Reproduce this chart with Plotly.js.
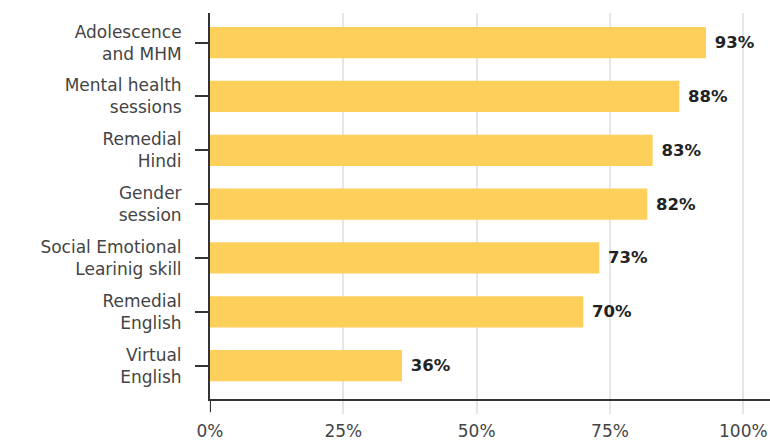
<!DOCTYPE html>
<html>
<head>
<meta charset="utf-8">
<script src="https://cdn.plot.ly/plotly-3.0.1.min.js"></script>
<style>html,body{margin:0;padding:0;background:#fff;}#chart{width:770px;height:444px;}</style>
</head>
<body>
<div id="chart"></div>
<script>
const categories = [
  "Adolescence<br>and MHM",
  "Mental health<br>sessions",
  "Remedial<br>Hindi",
  "Gender<br>session",
  "Social Emotional<br>Learinig skill",
  "Remedial<br>English",
  "Virtual<br>English"
];
const values = [93, 88, 83, 82, 73, 70, 36];
const labels = values.map(v => "\u00a0" + v + "%");
const xTickVals = [0, 25, 50, 75, 100];
const xTickText = ["0%", "25%", "50%", "75%", "100%"];

const fontFam = "DejaVu Sans, Open Sans, sans-serif";

const trace = {
  type: "bar",
  orientation: "h",
  y: categories,
  x: values,
  text: labels,
  textposition: "outside",
  cliponaxis: false,
  textfont: {family: fontFam, size: 16.5, color: "#222222", weight: 700},
  marker: {color: "#FDD05C"},
  width: 0.58,
  hoverinfo: "none"
};

const layout = {
  width: 770,
  height: 444,
  margin: {l: 210, r: 0, t: 13, b: 45},
  paper_bgcolor: "#ffffff",
  plot_bgcolor: "#ffffff",
  showlegend: false,
  font: {family: fontFam, size: 17, color: "#444444"},
  xaxis: {
    range: [0, 105],
    tickvals: xTickVals,
    ticktext: xTickText,
    showgrid: true,
    gridcolor: "#e6e6e6",
    gridwidth: 2,
    zeroline: false,
    showline: true,
    linecolor: "#333333",
    linewidth: 2,
    ticks: "outside",
    ticklen: 13,
    tickwidth: 2,
    tickcolor: "#e6e6e6",
    ticklabelstandoff: 3,
    tickfont: {family: fontFam, size: 17, color: "#444444"}
  },
  yaxis: {
    type: "category",
    categoryorder: "array",
    categoryarray: categories,
    range: [6.62, -0.55],
    showgrid: false,
    zeroline: false,
    showline: true,
    linecolor: "#333333",
    linewidth: 2,
    ticks: "outside",
    ticklen: 13,
    tickwidth: 2,
    tickcolor: "#333333",
    ticklabelstandoff: 10,
    tickfont: {family: fontFam, size: 17, color: "#444444"}
  },
  shapes: [{
    type: "line",
    xref: "x", yref: "paper",
    x0: 0, x1: 0, y0: 0, y1: -13/386,
    line: {color: "#333333", width: 2}
  }]
};

Plotly.newPlot("chart", [trace], layout, {staticPlot: true, displayModeBar: false});
</script>
</body>
</html>
